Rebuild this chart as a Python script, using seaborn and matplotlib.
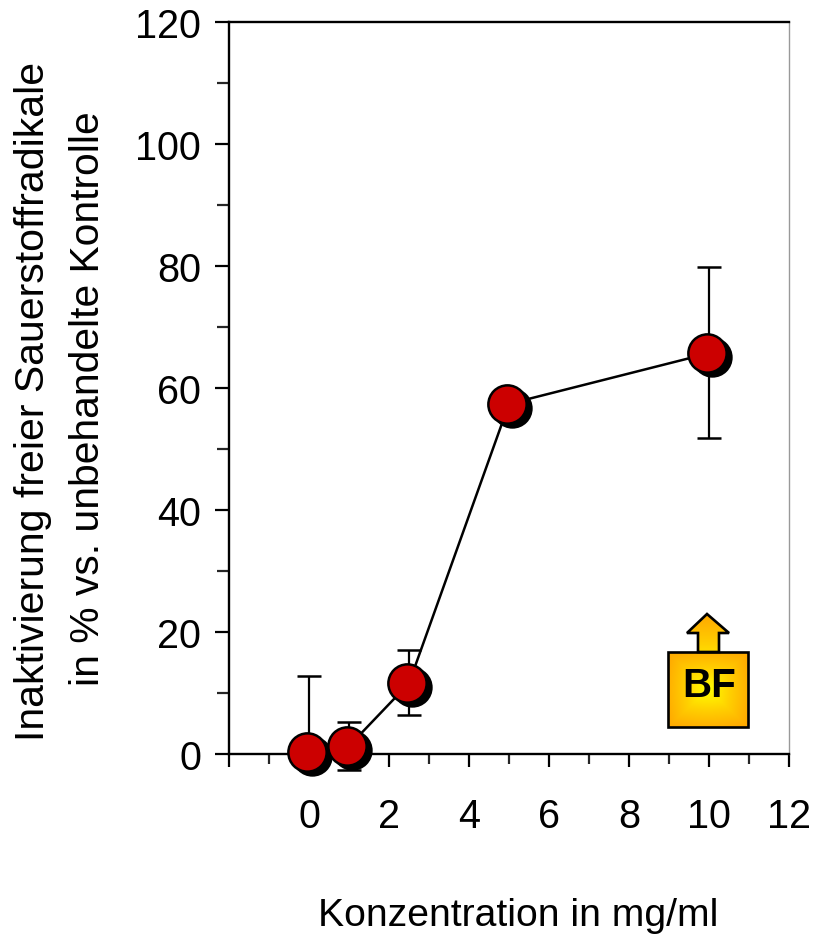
import numpy as np
import pandas as pd
import matplotlib
matplotlib.use("Agg")
import matplotlib.pyplot as plt
from matplotlib.patches import PathPatch
from matplotlib.path import Path
from matplotlib.colors import LinearSegmentedColormap
from matplotlib.transforms import Affine2D
import seaborn as sns

conc = [0, 1, 2.5, 5, 10]
inactivation = [0.4, 1.3, 11.6, 57.4, 65.7]
err_upper = [12.4, 3.9, 5.5, 1.0, 14.2]
err_lower = [0, 3.9, 5.2, 1.0, 13.9]
x_ticks = [-2, 0, 2, 4, 6, 8, 10, 12]
x_tick_labels = ["", "0", "2", "4", "6", "8", "10", "12"]
y_ticks = [0, 20, 40, 60, 80, 100, 120]

W, H = 816, 937

sns.set_theme(style="ticks")
plt.rcParams["font.family"] = ["Liberation Sans", "DejaVu Sans"]

df = pd.DataFrame({"conc": conc, "inactivation": inactivation})

fig = plt.figure(figsize=(W / 100, H / 100), dpi=100)
ax = fig.add_axes([229 / W, 1 - 755 / H, 560 / W, 732 / H])

sns.lineplot(data=df, x="conc", y="inactivation", color="black", linewidth=1.8,
             ax=ax, zorder=3, clip_on=False)
ax.errorbar(conc, inactivation, yerr=[err_lower, err_upper], fmt="none", ecolor="black",
            elinewidth=1.6, capsize=8.3, capthick=1.8, zorder=3, clip_on=False)

# shadow first, red dot on top, both shifted a few pixels
sns.scatterplot(data=df, x="conc", y="inactivation", s=760, color="black", edgecolor="black",
                linewidth=1.5, ax=ax, zorder=5, clip_on=False,
                transform=ax.transData + Affine2D().translate(3, -4))
sns.scatterplot(data=df, x="conc", y="inactivation", s=760, color="#cc0000", edgecolor="black",
                linewidth=1.8, ax=ax, zorder=6, clip_on=False,
                transform=ax.transData + Affine2D().translate(-2, 0))

ax.set_xlim(-2, 12)
ax.set_ylim(0, 120)
ax.set_xticks(x_ticks)
ax.set_xticklabels(x_tick_labels)
ax.set_xticks([-1, 1, 3, 5, 7, 9, 11], minor=True)
ax.set_yticks(y_ticks)
ax.set_yticks([10, 30, 50, 70, 90, 110], minor=True)
ax.set_xlabel("")
ax.set_ylabel("")
ax.tick_params(axis="x", which="major", length=9, width=1.6, labelsize=28.5, pad=22, color="black", labelcolor="black")
ax.tick_params(axis="x", which="minor", length=7.5, width=1.6)
ax.tick_params(axis="y", which="major", length=10, width=1.6, labelsize=28.5, pad=10, color="black", labelcolor="black")
ax.tick_params(axis="y", which="minor", length=8.5, width=1.6)

for side in ["left", "bottom", "top"]:
    ax.spines[side].set_visible(True)
    ax.spines[side].set_linewidth(1.7)
    ax.spines[side].set_color("black")
ax.spines["right"].set_visible(True)
ax.spines["right"].set_linewidth(1.0)
ax.spines["right"].set_color("#999999")

fig.text(518 / W, 1 - 916 / H, "Konzentration in mg/ml", fontsize=28.2, ha="center", va="center", color="black")
fig.text(33 / W, 1 - 401 / H, "Inaktivierung freier Sauerstoffradikale", fontsize=29.5,
         rotation=90, ha="center", va="center", color="black")
fig.text(88 / W, 1 - 399 / H, "in % vs. unbehandelte Kontrolle", fontsize=29.3,
         rotation=90, ha="center", va="center", color="black")

# BF badge, drawn in pixel coordinates on its own overlay axes
badge = fig.add_axes([660 / W, 1 - 735 / H, 96 / W, 130 / H])
badge.set_xlim(660, 756)
badge.set_ylim(735, 605)
badge.axis("off")

orange_yellow = LinearSegmentedColormap.from_list("oy", ["#ffff00", "#ffd000", "#ffa800"])

xx, yy = np.meshgrid(np.linspace(-1, 1, 100), np.linspace(-1, 1, 100))
box_grad = np.maximum(np.abs(xx), np.abs(yy)) * 0.6 + np.hypot(xx, yy) * 0.3
box_path = Path([(668, 653), (748, 653), (748, 728), (668, 728), (668, 653)], closed=True)
box_patch = PathPatch(box_path, facecolor="none", edgecolor="black", linewidth=1.9, zorder=3)
badge.add_patch(box_patch)
im = badge.imshow(box_grad, extent=(668, 748, 728, 653), cmap=orange_yellow, vmin=0, vmax=1,
                  aspect="auto", zorder=1)
im.set_clip_path(box_patch)

arrow_path = Path([(707, 615), (729, 634), (719, 634), (719, 653), (698, 653), (698, 634),
                   (687, 634), (707, 615)], closed=True)
arrow_patch = PathPatch(arrow_path, facecolor="none", edgecolor="black", linewidth=1.9, zorder=3)
badge.add_patch(arrow_patch)
im2 = badge.imshow(np.linspace(1, 0.35, 60).reshape(-1, 1), extent=(687, 729, 655, 615),
                   cmap=orange_yellow, vmin=0, vmax=1, aspect="auto", zorder=1)
im2.set_clip_path(arrow_patch)
badge.set_xlim(660, 756)
badge.set_ylim(735, 605)

badge.text(709, 686, "BF", fontsize=29, fontweight="bold", ha="center", va="center", color="black", zorder=4)

fig.savefig("out.png", dpi=100)
